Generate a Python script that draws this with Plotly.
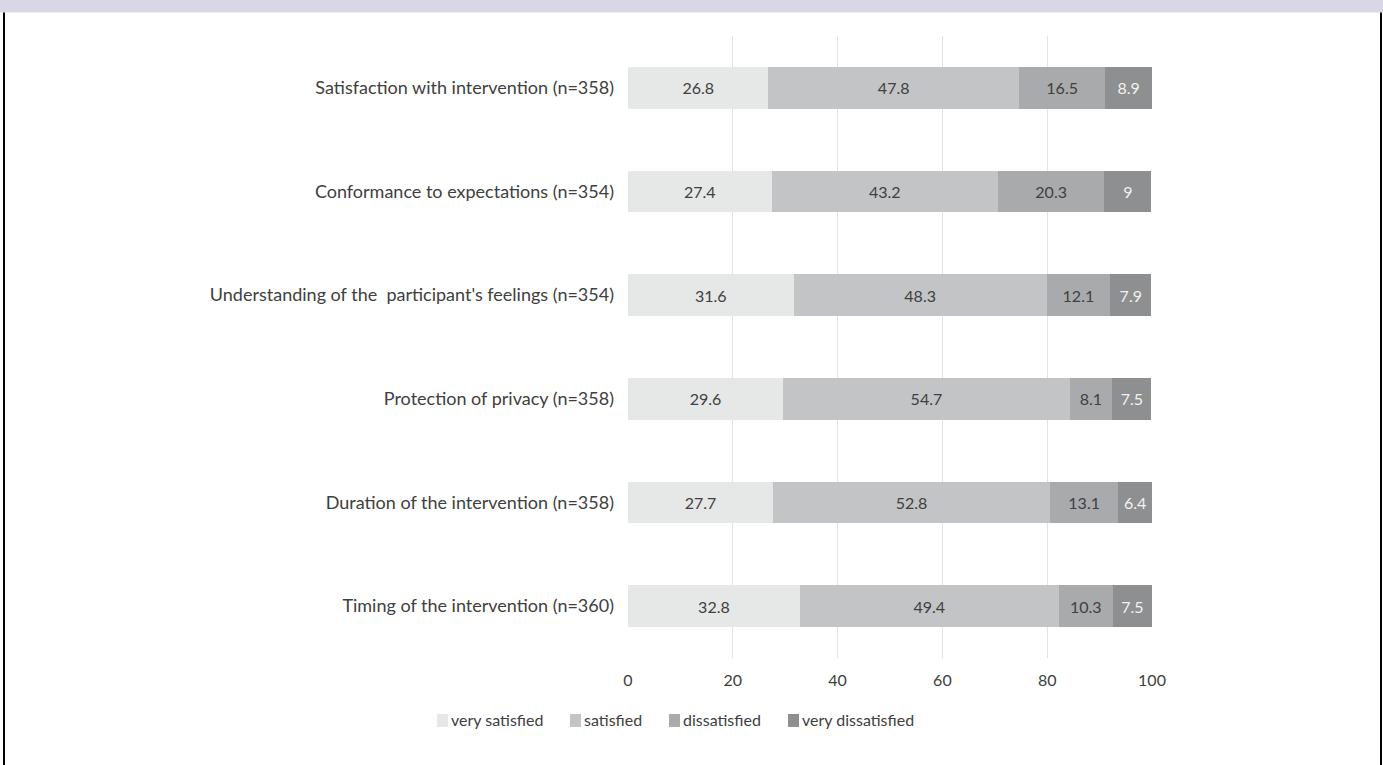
import plotly.graph_objects as go

categories = [
    "Satisfaction with intervention (n=358)",
    "Conformance to expectations (n=354)",
    "Understanding of the  participant's feelings (n=354)",
    "Protection of privacy (n=358)",
    "Duration of the intervention (n=358)",
    "Timing of the intervention (n=360)",
]
series_names = ["very satisfied", "satisfied", "dissatisfied", "very dissatisfied"]
very_satisfied = [26.8, 27.4, 31.6, 29.6, 27.7, 32.8]
satisfied = [47.8, 43.2, 48.3, 54.7, 52.8, 49.4]
dissatisfied = [16.5, 20.3, 12.1, 8.1, 13.1, 10.3]
very_dissatisfied = [8.9, 9, 7.9, 7.5, 6.4, 7.5]
x_ticks = [0, 20, 40, 60, 80, 100]

colors = ["#e6e7e7", "#c3c4c5", "#a9aaab", "#8e8f90"]
text_colors = ["#404040", "#404040", "#404040", "#f2f2f2"]
values = [very_satisfied, satisfied, dissatisfied, very_dissatisfied]

FONT = "Lato"
W, H = 1383, 765
L, R, T, B = 628, 1152, 35.6, 658

fig = go.Figure()
for name, vals, c, tc in zip(series_names, values, colors, text_colors):
    fig.add_trace(go.Bar(
        y=categories, x=vals, orientation="h", name=name,
        marker=dict(color=c, line=dict(width=0)),
        text=[f"{v:g}" for v in vals], textposition="inside",
        insidetextanchor="middle",
        textfont=dict(family=FONT, size=16, color=tc),
        width=0.4, showlegend=False, cliponaxis=False,
    ))

def px_x(px):
    return (px - L) / (R - L)

def px_y(py):
    return (B - py) / (B - T)

shapes = [
    dict(type="rect", xref="paper", yref="paper", x0=px_x(0), x1=px_x(W),
         y0=px_y(12), y1=px_y(-2), fillcolor="#d9d7e6", line=dict(width=0), layer="below"),
    dict(type="line", xref="paper", yref="paper", x0=px_x(4), x1=px_x(4),
         y0=px_y(12), y1=px_y(770), line=dict(color="#000000", width=2)),
    dict(type="line", xref="paper", yref="paper", x0=px_x(1381), x1=px_x(1381),
         y0=px_y(12), y1=px_y(770), line=dict(color="#000000", width=2)),
]

annotations = []
legend_x = [437, 570, 669, 788]
for name, c, lx in zip(series_names, colors, legend_x):
    shapes.append(dict(type="rect", xref="paper", yref="paper",
                       x0=px_x(lx), x1=px_x(lx + 11), y0=px_y(727), y1=px_y(714),
                       fillcolor=c, line=dict(width=0)))
    annotations.append(dict(xref="paper", yref="paper", x=px_x(lx + 12), y=px_y(720),
                            text=name, showarrow=False, xanchor="left", yanchor="middle",
                            font=dict(family=FONT, size=16, color="#404040")))

fig.update_layout(
    width=W, height=H,
    margin=dict(l=L, r=W - R, t=T, b=H - B, pad=0),
    barmode="stack",
    plot_bgcolor="white", paper_bgcolor="white",
    font=dict(family=FONT, color="#404040"),
    xaxis=dict(range=[0, 100], tickvals=x_ticks, showgrid=True, gridcolor="#e3e3e3",
               gridwidth=1, zeroline=False, showline=False, ticks="",
               tickfont=dict(family=FONT, size=16, color="#404040"), ticklabelstandoff=11),
    yaxis=dict(autorange="reversed", showgrid=False, zeroline=False, showline=False,
               ticks="", tickfont=dict(family=FONT, size=18, color="#404040"),
               ticklabelstandoff=13),
    shapes=shapes, annotations=annotations,
    uniformtext=dict(mode=False),
)

fig.write_html("out.html")
